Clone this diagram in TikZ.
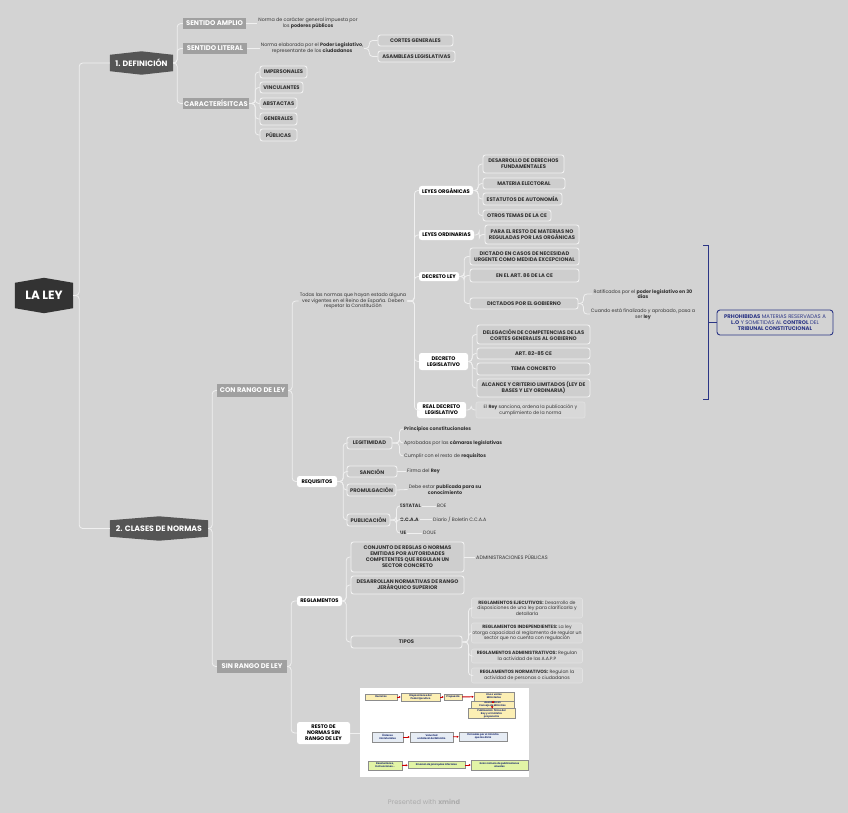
\documentclass[tikz,border=0pt]{standalone}
\usepackage{fontspec}
\setmainfont{Poppins}
\usetikzlibrary{positioning,calc,backgrounds,arrows.meta}

\definecolor{bgcol}{HTML}{D3D3D3}
\definecolor{linecol}{HTML}{F0F0F0}
\definecolor{rootcol}{HTML}{333333}
\definecolor{topiccol}{HTML}{555555}
\definecolor{subcol}{HTML}{A0A0A0}
\definecolor{boxcol}{HTML}{CECECE}
\definecolor{edgecol}{HTML}{F2F2F2}
\definecolor{notecol}{HTML}{D8D8D8}
\definecolor{noteedge}{HTML}{E2E2E2}
\definecolor{txtcol}{HTML}{333333}
\definecolor{navy}{HTML}{2B3585}
\definecolor{inkblue}{HTML}{1F2F70}
\definecolor{yelbox}{HTML}{FCEFB4}
\definecolor{bluebox}{HTML}{E6ECF4}
\definecolor{grnbox}{HTML}{E2F4A6}

\newcommand{\labfont}{\fontsize{5.2}{6}\selectfont\bfseries}
\newcommand{\notefont}{\fontsize{4.8}{5.8}\selectfont}
\newcommand{\hexfill}[3]{% node, colour, peak
  \fill[#2] (#1.north west) -- ($(#1.north)+(0,-#3)$) -- (#1.north east)
    -- (#1.south east) -- ($(#1.south)+(0,#3)$) -- (#1.south west) -- cycle;}
\newcommand{\branch}[3]{\foreach \c in {#3} {\draw[conn] (#1.east) -- ++(#2,0) |- (\c.west);}}

\tikzset{
  conn/.style={draw=linecol, line width=0.8pt, rounded corners=3.5pt},
  hextopic/.style={text=white, font=\fontsize{7.8}{9}\selectfont\bfseries, inner sep=0pt, minimum height=16},
  roottopic/.style={hextopic, font=\fontsize{12}{13}\selectfont\bfseries, minimum height=25},
  graybar/.style={fill=subcol, text=white, font=\fontsize{6.8}{7.5}\selectfont\bfseries, inner sep=0pt, minimum height=11},
  whitebox/.style={fill=white, rounded corners=2.5pt, text=black, font=\labfont, align=center, inner sep=0pt},
  outbox/.style={fill=boxcol, draw=edgecol, line width=0.9pt, rounded corners=2.5pt, text=txtcol, font=\labfont, align=center, inner sep=0pt},
  notebox/.style={fill=notecol, draw=noteedge, line width=0.6pt, rounded corners=2pt, text=txtcol, font=\fontsize{4.65}{5.6}\selectfont, align=center, inner sep=0pt},
  plain/.style={text=txtcol, font=\notefont, align=center, inner sep=1pt},
  brace/.style={draw=navy, line width=0.9pt},
  imgbox/.style={draw=black!45, line width=0.4pt, font=\fontsize{2.5}{3}\selectfont\bfseries, text=inkblue, align=center, inner sep=0.3pt},
  redarr/.style={draw=red!80!black, line width=0.9pt, -{Latex[length=2pt,width=2.4pt]}}
}

\begin{document}
\begin{tikzpicture}[x=1pt,y=-1pt]
\begin{scope}[on background layer]
\fill[bgcol] (0,0) rectangle (848,813);
\end{scope}
\useasboundingbox (0,0) rectangle (848,813);

% root and main topics
\node[roottopic, minimum width=58] (laley) at (44,295.5) {LA LEY};
\node[hextopic, minimum width=63] (def) at (141.5,63) {1. DEFINICIÓN};
\node[hextopic, minimum width=98] (clases) at (159,528.5) {2. CLASES DE NORMAS};
\begin{scope}[on background layer]
\hexfill{laley}{rootcol}{5}
\hexfill{def}{topiccol}{3.5}
\hexfill{clases}{topiccol}{4}
\end{scope}
\branch{laley}{6}{def,clases}

% 1. definicion
\node[graybar, minimum width=63] (amplio) at (214.5,23.5) {SENTIDO AMPLIO};
\node[graybar, minimum width=64] (literal) at (215,48.5) {SENTIDO LITERAL};
\node[graybar, minimum width=66] (caract) at (216,103.5) {CARACTERÍSITCAS};
\branch{def}{4}{amplio,literal,caract}
\node[plain] (ampliotxt) at (308,23.5) {Norma de carácter general impuesta por\\los \textbf{poderes públicos}};
\node[plain] (literaltxt) at (312,48.5) {Norma elaborada por el \textbf{Poder Legislativo},\\representante de los \textbf{ciudadanos}};
\draw[conn] (amplio.east) -- (ampliotxt.west);
\draw[conn] (literal.east) -- (literaltxt.west);
\node[outbox, minimum width=75, minimum height=11] (cortes) at (415.5,40.5) {CORTES GENERALES};
\node[outbox, minimum width=77, minimum height=11] (asamb) at (416.5,56.5) {ASAMBLEAS LEGISLATIVAS};
\branch{literaltxt}{5}{cortes,asamb}
\node[outbox, minimum width=47, minimum height=12] (imper) at (283.5,72) {IMPERSONALES};
\node[outbox, minimum width=43, minimum height=11] (vinc) at (281.5,87.5) {VINCULANTES};
\node[outbox, minimum width=37, minimum height=11] (abst) at (278.5,103.5) {ABSTACTAS};
\node[outbox, minimum width=37, minimum height=12] (gener) at (278.5,119) {GENERALES};
\node[outbox, minimum width=37, minimum height=12] (publ) at (278.5,135) {PÚBLICAS};
\branch{caract}{6}{imper,vinc,abst,gener,publ}

% 2. clases de normas
\node[graybar, minimum width=71, minimum height=13] (conrango) at (252.5,390.5) {CON RANGO DE LEY};
\node[graybar, minimum width=70, minimum height=13] (sinrango) at (252,666.5) {SIN RANGO DE LEY};
\branch{clases}{4}{conrango,sinrango}

% con rango de ley
\node[plain] (todas) at (353,301) {Todas las normas que hayan estado alguna\\vez vigentes en el Reino de España. Deben\\respetar la Constitución};
\node[whitebox, minimum width=40, minimum height=11] (requis) at (317,481.5) {REQUISITOS};
\branch{conrango}{4}{todas,requis}

\node[whitebox, minimum width=54, minimum height=9] (orgs) at (446,190.5) {LEYES ORGÁNICAS};
\node[whitebox, minimum width=55, minimum height=10] (ordin) at (446.5,235) {LEYES ORDINARIAS};
\node[whitebox, minimum width=40, minimum height=9] (dley) at (439,276.5) {DECRETO LEY};
\node[whitebox, minimum width=49, minimum height=17] (dleg) at (443.5,361.5) {DECRETO\\LEGISLATIVO};
\node[whitebox, minimum width=49, minimum height=16] (rdleg) at (441.5,410) {REAL DECRETO\\LEGISLATIVO};
\branch{todas}{7}{orgs,ordin,dley,dleg,rdleg}

\node[outbox, minimum width=81, minimum height=18] (desarr) at (523.5,164) {DESARROLLO DE DERECHOS\\FUNDAMENTALES};
\node[outbox, minimum width=82, minimum height=11] (elect) at (524,183.5) {MATERIA ELECTORAL};
\node[outbox, minimum width=79, minimum height=12] (estat) at (522.5,199) {ESTATUTOS DE AUTONOMÍA};
\node[outbox, minimum width=68, minimum height=11] (otros) at (517,215.5) {OTROS TEMAS DE LA CE};
\branch{orgs}{5}{desarr,elect,estat,otros}
\node[outbox, minimum width=94, minimum height=19] (restoord) at (532,234.5) {PARA EL RESTO DE MATERIAS NO\\REGULADAS POR LAS ORGÁNICAS};
\branch{ordin}{5}{restoord}

\node[outbox, minimum width=109, minimum height=17] (urg) at (524.5,256.5) {DICTADO EN CASOS DE NECESIDAD\\URGENTE COMO MEDIDA EXCEPCIONAL};
\node[outbox, minimum width=109, minimum height=13] (art86) at (524.5,275.5) {EN EL ART. 86 DE LA CE};
\node[outbox, minimum width=108, minimum height=11] (gob) at (524,303.5) {DICTADOS POR EL GOBIERNO};
\branch{dley}{5}{urg,art86,gob}
\node[plain] (rat) at (643,294) {Ratificados por el \textbf{poder legislativo en 30}\\\textbf{días}};
\node[plain] (cuando) at (643,314) {Cuando está finalizado y aprobado, pasa a\\ser \textbf{ley}};
\branch{gob}{5}{rat,cuando}

\node[outbox, minimum width=113, minimum height=19] (deleg) at (533.5,334.5) {DELEGACIÓN DE COMPETENCIAS DE LAS\\CORTES GENERALES AL GOBIERNO};
\node[outbox, minimum width=113, minimum height=11] (art82) at (533.5,353.5) {ART. 82-85 CE};
\node[outbox, minimum width=113, minimum height=12] (tema) at (533.5,369) {TEMA CONCRETO};
\node[outbox, minimum width=113, minimum height=18] (alcance) at (533.5,388) {ALCANCE Y CRITERIO LIMITADOS (LEY DE\\BASES Y LEY ORDINARIA)};
\branch{dleg}{4}{deleg,art82,tema,alcance}
\node[notebox, minimum width=109, minimum height=16] (rey) at (530.5,410) {El \textbf{Rey} sanciona, ordena la publicación y\\cumplimiento de la norma};
\branch{rdleg}{5}{rey}

% limits of the decretos
\coordinate (brtop) at (703,245);
\coordinate (brbot) at (703,399);
\coordinate (brmid) at (708,322.5);
\node[draw=navy, line width=0.9pt, fill=bgcol, rounded corners=3pt, text=navy, font=\fontsize{5.3}{6.3}\selectfont, align=center, minimum width=116, minimum height=25, inner sep=0pt] (prohib) at (775,322.5) {\textbf{PRHOHIBIDAS} MATERIAS RESERVADAS A\\\textbf{L.O} Y SOMETIDAS AL \textbf{CONTROL} DEL\\\textbf{TRIBUNAL CONSTITUCIONAL}};
\draw[brace] (brtop) -- ++(5,0) |- (brbot);
\draw[brace] (brmid) -- (prohib.west);

% requisitos
\node[outbox, minimum width=45, minimum height=12] (legit) at (369.5,443) {LEGITIMIDAD};
\node[outbox, minimum width=50, minimum height=11] (sancion) at (372,471.5) {SANCIÓN};
\node[outbox, minimum width=49, minimum height=12] (promul) at (371.5,490) {PROMULGACIÓN};
\node[outbox, minimum width=43, minimum height=12] (public) at (368.5,520) {PUBLICACIÓN};
\branch{requis}{6}{legit,sancion,promul,public}
\node[plain, anchor=west] (princ) at (403,429) {\textbf{Principios constitucionales}};
\node[plain, anchor=west] (aprob) at (403,443) {Aprobadas por las \textbf{cámaras legislativas}};
\node[plain, anchor=west] (cumpl) at (403,456) {Cumplir con el resto de \textbf{requisitos}};
\branch{legit}{7}{princ,aprob,cumpl}
\node[plain, anchor=west] (firma) at (406,471.5) {Firma del \textbf{Rey}};
\draw[conn] (sancion.east) -- (firma.west);
\node[plain] (debe) at (445,489.5) {Debe estar \textbf{publicada para su}\\\textbf{conocimiento}};
\draw[conn] (promul.east) -- (debe.west);
\node[plain, anchor=west] (estatal) at (399,506) {\textbf{ESTATAL}};
\node[plain, anchor=west] (ccaa) at (399,519.5) {\textbf{C.C.A.A}};
\node[plain, anchor=west] (ue) at (399,533) {\textbf{UE}};
\branch{public}{6}{estatal,ccaa,ue}
\node[plain, anchor=west] (boe) at (436,506) {BOE};
\node[plain, anchor=west] (diario) at (432,519.5) {Diario / Boletín C.C.A.A};
\node[plain, anchor=west] (doue) at (422,533) {DOUE};
\draw[conn] (estatal.east) -- (boe.west);
\draw[conn] (ccaa.east) -- (diario.west);
\draw[conn] (ue.east) -- (doue.west);

% sin rango de ley
\node[whitebox, minimum width=45, minimum height=10] (reglam) at (319.5,601) {REGLAMENTOS};
\node[whitebox, minimum width=53, minimum height=22] (resto) at (323.5,733) {RESTO DE\\NORMAS SIN\\RANGO DE LEY};
\branch{sinrango}{4}{reglam,resto}
\node[outbox, minimum width=113, minimum height=30] (conjunto) at (407.5,557) {CONJUNTO DE REGLAS O NORMAS\\EMITIDAS POR AUTORIDADES\\COMPETENTES QUE REGULAN UN\\SECTOR CONCRETO};
\node[outbox, minimum width=113, minimum height=18] (desarrn) at (407.5,585) {DESARROLLAN NORMATIVAS DE RANGO\\JERÁRQUICO SUPERIOR};
\node[outbox, minimum width=111, minimum height=12] (tipos) at (406.5,642) {TIPOS};
\branch{reglam}{4}{conjunto,desarrn,tipos}
\node[plain, anchor=west, font=\fontsize{5}{6}\selectfont] (admin) at (475,557) {ADMINISTRACIONES PÚBLICAS};
\draw[conn] (conjunto.east) -- (admin.west);
\node[notebox, minimum width=111, minimum height=20] (rej) at (527,608) {\textbf{REGLAMENTOS EJECUTIVOS:} Desarrollo de\\disposiciones de una ley para clarificarla y\\detallarla};
\node[notebox, minimum width=111, minimum height=20] (rind) at (527,633) {\textbf{REGLAMENTOS INDEPENDIENTES:} La ley\\otorga capacidad al reglamento de regular un\\sector que no cuenta con regulación};
\node[notebox, minimum width=111, minimum height=14] (radm) at (527,656) {\textbf{REGLAMENTOS ADMINISTRATIVOS:} Regulan\\la actividad de las A.A.P.P};
\node[notebox, minimum width=111, minimum height=15] (rnorm) at (527,675.5) {\textbf{REGLAMENTOS NORMATIVOS:} Regulan la\\actividad de personas o ciudadanos};
\branch{tipos}{6}{rej,rind,radm,rnorm}

% picture of the other norms
\node[fill=white, minimum width=169, minimum height=89, inner sep=0pt] (inset) at (444.5,732.5) {};
\draw[conn] (resto.east) -- (inset.west |- resto.east);
\node[imgbox, fill=yelbox, minimum width=32, minimum height=6] (decr) at (381,697) {Decretos};
\node[imgbox, fill=yelbox, minimum width=39, minimum height=8] (dispo) at (420.5,697) {Disposiciones del\\Poder Ejecutivo};
\node[imgbox, fill=yelbox, minimum width=18, minimum height=6] (prop) at (453,697) {Propuesta};
\node[imgbox, fill=yelbox, minimum width=40, minimum height=9] (varios) at (494,696.5) {Uno o varios\\Ministerios};
\node[imgbox, fill=yelbox, minimum width=43, minimum height=7] (acord) at (492.5,704.5) {Acordado en\\Consejo de Ministros};
\node[imgbox, fill=yelbox, minimum width=47, minimum height=10] (firmrey) at (491.5,713.5) {Publicación: firma del\\Rey y el ministro\\proponente};
\draw[redarr] (decr) -- (dispo);
\draw[redarr] (dispo) -- (prop);
\draw[redarr] (prop) -- (varios);
\draw[redarr] (varios) -- (acord);
\draw[redarr] (acord) -- (firmrey);
\node[imgbox, fill=bluebox, minimum width=31, minimum height=10] (ordmin) at (387.5,737) {Órdenes\\ministeriales};
\node[imgbox, fill=bluebox, minimum width=43, minimum height=10] (volun) at (431.5,737) {Voluntad\\unilateral del Ministro};
\node[imgbox, fill=bluebox, minimum width=48, minimum height=9] (firmmin) at (483,736.5) {Firmadas por el ministro\\que las dicta};
\draw[redarr] (ordmin) -- (volun);
\draw[redarr] (volun) -- (firmmin);
\node[imgbox, fill=grnbox, minimum width=34, minimum height=9] (resol) at (385,765.5) {Resoluciones,\\Instrucciones...};
\node[imgbox, fill=grnbox, minimum width=57, minimum height=7] (emanan) at (436.5,765) {Emanan de jerarquías inferiores};
\node[imgbox, fill=grnbox, minimum width=57, minimum height=10] (gran) at (499.5,765) {Gran número de publicaciones\\anuales};
\draw[redarr] (resol) -- (emanan);
\draw[redarr] (emanan) -- (gran);

\node[text=black!33, font=\fontsize{6.6}{7.5}\selectfont] (xmind) at (424,802) {Presented with \textbf{xmind}};
\end{tikzpicture}
\end{document}
